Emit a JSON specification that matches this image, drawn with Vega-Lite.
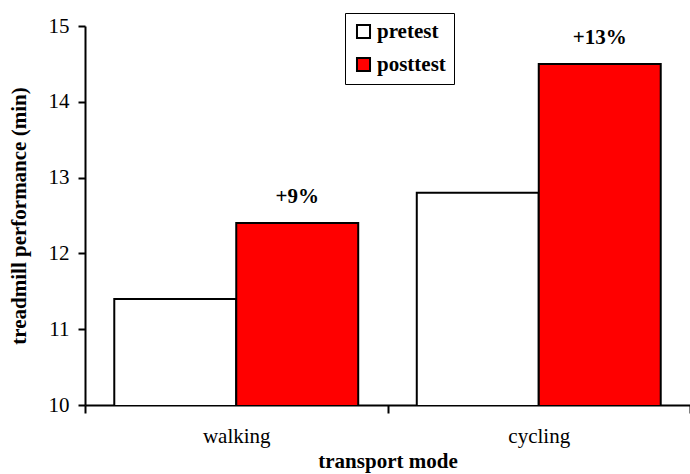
{
  "$schema": "https://vega.github.io/schema/vega-lite/v6.json",
  "width": 605,
  "height": 379,
  "autosize": "none",
  "padding": {"left": 85, "top": 26, "right": 0, "bottom": 69},
  "background": "white",
  "config": {
    "view": {"stroke": null},
    "font": "Liberation Serif",
    "axis": {"grid": false, "domainColor": "black", "domainWidth": 2, "tickColor": "black", "tickWidth": 2, "labelColor": "black", "titleColor": "black", "labelFont": "Liberation Serif", "titleFont": "Liberation Serif"}
  },
  "data": {
    "values": [
      {"mode": "walking", "test": "pretest", "value": 11.4, "label": ""},
      {"mode": "walking", "test": "posttest", "value": 12.4, "label": "+9%"},
      {"mode": "cycling", "test": "pretest", "value": 12.8, "label": ""},
      {"mode": "cycling", "test": "posttest", "value": 14.5, "label": "+13%"}
    ]
  },
  "encoding": {
    "x": {
      "field": "mode", "type": "nominal", "sort": ["walking", "cycling"],
      "scale": {"paddingInner": 0, "paddingOuter": 0},
      "axis": {"title": "transport mode", "labelAngle": 0, "tickBand": "extent", "tickSize": 8, "labelFontSize": 21, "labelPadding": 12, "titleFontSize": 21, "titleFontWeight": "bold", "titlePadding": 4}
    },
    "xOffset": {"field": "test", "type": "nominal", "sort": ["pretest", "posttest"], "scale": {"paddingInner": 0, "paddingOuter": 0.24}},
    "y": {
      "field": "value", "type": "quantitative",
      "scale": {"domain": [10, 15], "nice": false, "zero": false},
      "axis": {"title": "treadmill performance (min)", "values": [10, 11, 12, 13, 14, 15], "tickSize": 7, "labelFontSize": 21, "labelPadding": 9, "titleFontSize": 21, "titleFontWeight": "bold", "titlePadding": 19}
    }
  },
  "layer": [
    {
      "mark": {"type": "bar", "stroke": "black", "strokeWidth": 2, "clip": true},
      "encoding": {
        "fill": {
          "field": "test", "type": "nominal",
          "scale": {"domain": ["pretest", "posttest"], "range": ["#FFFFFF", "#FF0000"]},
          "legend": {"title": null, "orient": "none", "legendX": 260, "legendY": -13, "fillColor": "white", "strokeColor": "black", "padding": 8, "rowPadding": 10, "symbolType": "square", "symbolSize": 170, "symbolStrokeColor": "black", "symbolStrokeWidth": 2, "labelFontSize": 21, "labelFontWeight": "bold", "labelFont": "Liberation Serif", "labelColor": "black", "labelOffset": 3}
        }
      }
    },
    {
      "mark": {"type": "text", "dy": -20, "baseline": "alphabetic", "fontSize": 21, "fontWeight": "bold", "font": "Liberation Serif", "color": "black"},
      "encoding": {"text": {"field": "label"}}
    }
  ]
}
